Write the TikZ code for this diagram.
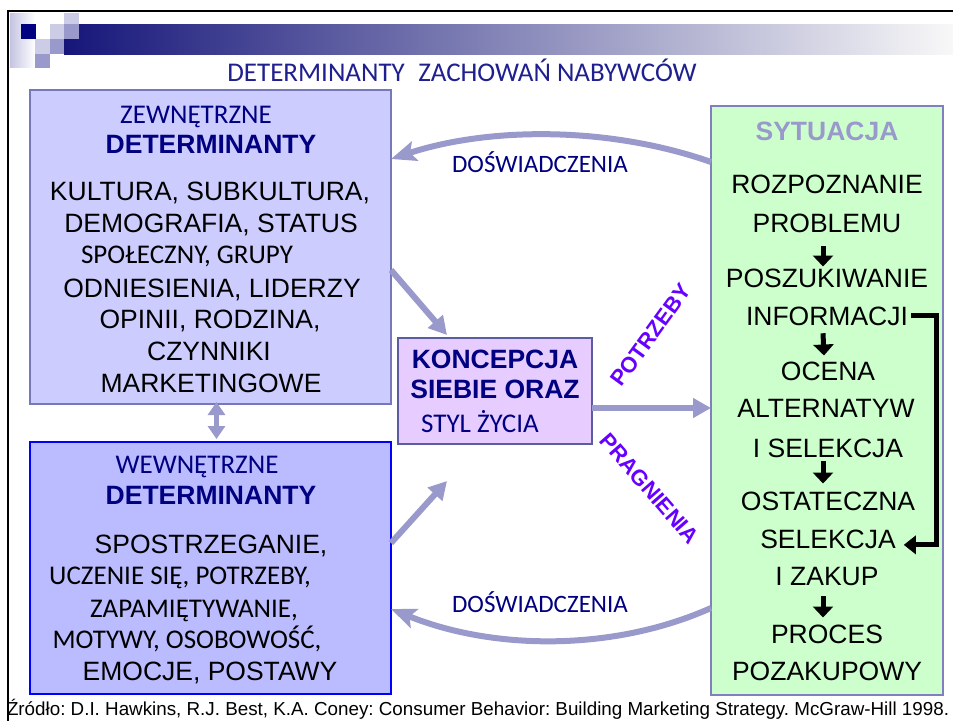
\documentclass[tikz,border=0pt]{standalone}
\usepackage{fontspec}
\setmainfont{Liberation Sans}
\newfontfamily\carlito{Carlito}
\usetikzlibrary{arrows.meta}
\definecolor{navyblue}{HTML}{000080}
\definecolor{titleblue}{HTML}{1F1F8F}
\definecolor{lav}{HTML}{9999CC}
\definecolor{lavlight}{HTML}{CCCCE6}
\definecolor{colgrad}{HTML}{C4C4E2}
\definecolor{barnavy}{HTML}{16167A}
\definecolor{barmid}{HTML}{A2A2C0}
\definecolor{barend}{HTML}{F8F8F8}
\definecolor{extfill}{HTML}{CCCCFF}
\definecolor{extline}{HTML}{7777BB}
\definecolor{intfill}{HTML}{BBBBFF}
\definecolor{intline}{HTML}{0000FF}
\definecolor{selffill}{HTML}{E6CCFF}
\definecolor{selfline}{HTML}{5C5CA3}
\definecolor{sitfill}{HTML}{CCFFCC}
\definecolor{sitline}{HTML}{8080C0}
\definecolor{violetlbl}{HTML}{6600FF}
\frenchspacing
\begin{document}
\begin{tikzpicture}[x=1pt,y=-1pt,
  every node/.style={inner sep=0pt,outer sep=0pt},
  ar/.style={font=\fontsize{26.5}{30}\selectfont, anchor=base, text=black},
  arb/.style={font=\fontsize{26.5}{30}\selectfont\bfseries, anchor=base, text=navyblue},
  cal/.style={font=\carlito\fontsize{27}{30}\selectfont, anchor=base, text=black},
  calhead/.style={cal, text=navyblue},
  flow/.style={draw=lav, line width=6pt, -{Triangle[length=18pt,width=19pt]}},
  backflow/.style={draw=lav, line width=6pt, -{Stealth[length=25pt,width=20pt,inset=5pt]}},
  stepdown/.style={line width=5pt, -{Triangle[length=11pt,width=20pt]}},
  slant/.style={font=\fontsize{22}{26}\selectfont\bfseries, text=violetlbl},
]
% page
\useasboundingbox (0,0) rectangle (953,721);
\fill[white] (0,0) rectangle (953,721);

% header ornament: gradient bar and squares
\shade[left color=colgrad, right color=white] (10,13) rectangle (35,67);
\shade[left color=barnavy, middle color=barmid, right color=barend] (64,24) rectangle (953,54);
\fill[navyblue] (21,24) rectangle (36,39);
\fill[lavlight] (64,12.5) rectangle (79,24);
\fill[lavlight] (50,24) rectangle (64,39);
\fill[lavlight] (35,39) rectangle (50,54);
\fill[lav] (64,24) rectangle (79,39);
\fill[lav] (50,39) rectangle (64,54);
\fill[lav] (35,54) rectangle (50,68);
\draw[line width=2.5pt] (7,11.2) -- (953,11.2);
\draw[line width=2.4pt] (7.8,10) -- (7.8,721);

% title
\node[font=\carlito\fontsize{27}{30}\selectfont, text=titleblue, anchor=base] (title) at (462,81) {DETERMINANTY\hspace{0.5em}ZACHOWAŃ NABYWCÓW};

% panels
\node[draw=extline, fill=extfill, line width=1.5pt, minimum width=361pt, minimum height=314pt] (ext) at (210.5,247) {};
\node[draw=intline, fill=intfill, line width=2pt, minimum width=361pt, minimum height=252pt] (int) at (210.5,568) {};
\node[draw=selfline, fill=selffill, line width=1.5pt, minimum width=194pt, minimum height=106pt] (self) at (495,391) {};
\node[draw=sitline, fill=sitfill, line width=2.5pt, minimum width=232pt, minimum height=589pt] (sit) at (827,400.5) {};

% influences
\draw[backflow] (sit.west |- 0,162) .. controls (610,126.5) and (490,126.5) .. (ext.east |- 0,159);
\draw[backflow] (sit.west |- 0,608) .. controls (615,651) and (495,651) .. (int.east |- 0,609);
\draw[flow] (ext.east |- 0,270) -- ([shift={(49,-3)}]self.north west);
\draw[flow] (int.east |- 0,543) -- ([shift={(49,37)}]self.south west);
\draw[flow] (self.east |- 0,408) -- (sit.west |- 0,408);
\draw[draw=lav, line width=5pt, {Triangle[length=13pt,width=17pt]}-{Triangle[length=13pt,width=17pt]}]
  ([shift={(6,-2)}]ext.south) -- ([shift={(6,-3)}]int.north);

\node[calhead, font=\carlito\fontsize{25}{30}\selectfont] (exp1) at (540,172) {DOŚWIADCZENIA};
\node[calhead, font=\carlito\fontsize{25}{30}\selectfont] (exp2) at (540,612) {DOŚWIADCZENIA};
\node[slant, rotate=54] (needs) at (651,335) {POTRZEBY};
\node[slant, rotate=-49] (wants) at (649.5,488.5) {PRAGNIENIA};

% external determinants
\node[calhead] (e1) at (196,123) {ZEWNĘTRZNE};
\node[arb] (e2) at (211,153) {DETERMINANTY};
\node[ar] (e3) at (210,200) {KULTURA, SUBKULTURA,};
\node[ar] (e4) at (211,232) {DEMOGRAFIA, STATUS};
\node[cal] (e5) at (187,263) {SPOŁECZNY, GRUPY};
\node[ar] (e6) at (212,297) {ODNIESIENIA, LIDERZY};
\node[ar] (e7) at (210,328) {OPINII, RODZINA,};
\node[ar] (e8) at (209,360) {CZYNNIKI};
\node[ar] (e9) at (211,392) {MARKETINGOWE};

% internal determinants
\node[calhead] (i1) at (197,473) {WEWNĘTRZNE};
\node[arb] (i2) at (211,504) {DETERMINANTY};
\node[ar] (i3) at (211,553) {SPOSTRZEGANIE,};
\node[cal] (i4) at (180,584) {UCZENIE SIĘ, POTRZEBY,};
\node[cal] (i5) at (194,617) {ZAPAMIĘTYWANIE,};
\node[cal] (i6) at (187,648) {MOTYWY, OSOBOWOŚĆ,};
\node[ar] (i7) at (210,680) {EMOCJE, POSTAWY};

% self-concept
\node[arb] (s1) at (495,368) {KONCEPCJA};
\node[arb] (s2) at (495,398) {SIEBIE ORAZ};
\node[calhead] (s3) at (480,432) {STYL ŻYCIA};

% situation and decision process
\node[arb, text=lav] (sit0) at (827,140) {SYTUACJA};
\node[ar] (p1a) at (827,193) {ROZPOZNANIE};
\node[ar] (p1b) at (827,232) {PROBLEMU};
\node[ar] (p2a) at (827,287) {POSZUKIWANIE};
\node[ar] (p2b) at (827,325) {INFORMACJI};
\node[ar] (p3a) at (828,380) {OCENA};
\node[ar] (p3b) at (826,417) {ALTERNATYW};
\node[ar] (p3c) at (828,457) {I SELEKCJA};
\node[ar] (p4a) at (828,510) {OSTATECZNA};
\node[ar] (p4b) at (828,548) {SELEKCJA};
\node[ar] (p4c) at (827,585) {I ZAKUP};
\node[ar] (p5a) at (827,643) {PROCES};
\node[ar] (p5b) at (827,680) {POZAKUPOWY};

\draw[stepdown] ([shift={(-4,14)}]p1b.south) -- ([shift={(-4,-2)}]p2a.north);
\draw[stepdown] ([shift={(-4,8)}]p2b.south) -- ([shift={(-4,-6)}]p3a.north);
\draw[stepdown] ([shift={(-5,4)}]p3c.south) -- ([shift={(-5,-8)}]p4a.north);
\draw[stepdown] ([shift={(-4,11)}]p4c.south) -- ([shift={(-4,-7)}]p5a.north);
\draw[line width=5pt, -{Triangle[length=12pt,width=18pt]}]
  ([xshift=3pt]p2b.east) -- ++(26,0) |- ([shift={(8,6)}]p4b.east);

% source
\node[font=\fontsize{18.8}{20}\selectfont, anchor=base west] (source) at (7,715)
  {Źródło: D.I. Hawkins, R.J. Best, K.A. Coney: Consumer Behavior: Building Marketing Strategy. McGraw-Hill 1998.};
\end{tikzpicture}
\end{document}
